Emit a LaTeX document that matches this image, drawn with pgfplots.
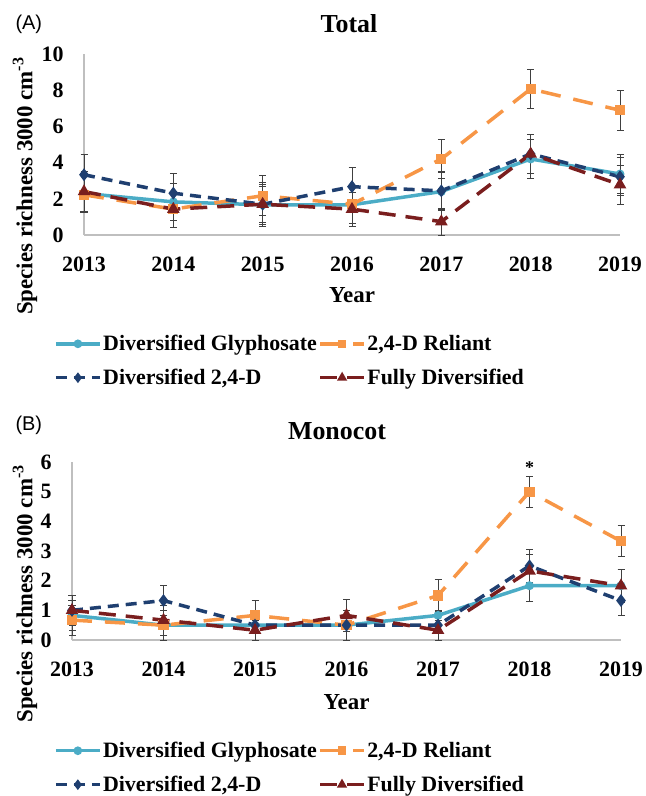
\documentclass[border=0pt]{standalone}
\usepackage{fontspec}
\setmainfont{Liberation Serif}
\setsansfont{Liberation Sans}
\usepackage{pgfplots}
\pgfplotsset{compat=1.18}
\definecolor{cDG}{HTML}{4BACC6}
\definecolor{cRE}{HTML}{F79646}
\definecolor{cDT}{HTML}{1F3F70}
\definecolor{cFD}{HTML}{7A1E1E}
\definecolor{cAx}{HTML}{BFBFBF}
\definecolor{cEr}{HTML}{404040}

\newcommand{\labfont}{\fontsize{23}{26}\selectfont\bfseries}
\pgfplotsset{
 common/.style={
  scale only axis,
  clip=false,
  axis x line*=bottom, axis y line*=left,
  axis line style={cAx, line width=1.2bp, -},
  xmin=2013, xmax=2019,
  xtick={2013,2014,2015,2016,2017,2018,2019},
  /pgf/number format/1000 sep={},
  /pgf/number format/assume math mode=true,
  major tick length=0pt,
  tick style={draw=none},
  ticklabel style={font=\fontsize{22}{24}\selectfont\bfseries},
  xticklabel style={yshift=-18bp},
  yticklabel style={xshift=-17bp},
  xlabel={Year},
  ylabel={Species richness 3000 cm\textsuperscript{-3}},
  legend columns=2,
  legend cell align=left,
  legend style={draw=none, fill=none, font=\fontsize{22}{24}\selectfont\bfseries,
    inner sep=0pt, nodes={inner sep=1.5bp}, row sep=14bp, anchor=north west},
  legend image code/.code={\draw[##1, mark repeat=2, mark phase=2, mark size=2.5bp] plot coordinates {(0bp,0bp) (22bp,0bp) (44bp,0bp)};},
 },
 eb/.style={error bars/.cd, y dir=both, y explicit,
   error bar style={color=cEr, line width=0.9bp, solid},
   error mark options={color=cEr, line width=0.9bp, mark size=3.5bp, solid, rotate=90}},
 sDG/.style={color=cDG, line width=3.5bp, solid, mark=*, mark size=2.6bp, mark options={solid, fill=cDG}},
 sRE/.style={color=cRE, line width=3.5bp, dash pattern=on 20bp off 13bp, mark=square*, mark size=3.3bp, mark options={solid, fill=cRE}},
 sDT/.style={color=cDT, line width=3.5bp, dash pattern=on 11bp off 7bp, mark=diamond*, mark size=3.6bp, mark options={solid, fill=cDT}},
 sFD/.style={color=cFD, line width=3.5bp, dash pattern=on 17bp off 10bp, mark=triangle*, mark size=3.8bp, mark options={solid, fill=cFD}},
}

\begin{document}
\begin{tikzpicture}
\useasboundingbox (0,0) rectangle (646bp,-796bp);

% ---------- Panel A ----------
\node[anchor=west, font=\sffamily\fontsize{20}{22}\selectfont] at (12bp,-24bp) {(A)};
\node[font=\fontsize{26}{28}\selectfont\bfseries] at (349bp,-24bp) {Total};
\begin{axis}[common,
  at={(84bp,-235bp)}, anchor=south west,
  width=536bp, height=181bp,
  ymin=0, ymax=10, ytick={0,2,4,6,8,10},
  every axis x label/.style={at={(axis description cs:0.5,-0.33)}, anchor=center, font=\labfont},
  every axis y label/.style={at={(axis description cs:-0.110,0.27)}, rotate=90, anchor=center, font=\labfont},
  legend style={at={(axis description cs:-0.056,-0.545)}},
]
\addplot[sDG, eb] table[x=x, y=y, y error=e] {
x y e
2013 2.30 1.00
2014 1.83 1.00
2015 1.67 1.00
2016 1.67 1.05
2017 2.40 1.05
2018 4.20 1.10
2019 3.37 1.07
};
\addlegendentry{Diversified Glyphosate}
\addplot[sRE, eb] table[x=x, y=y, y error=e] {
x y e
2013 2.22 1.00
2014 1.43 1.00
2015 2.17 1.10
2016 1.70 1.05
2017 4.20 1.06
2018 8.07 1.07
2019 6.89 1.10
};
\addlegendentry{2,4-D Reliant}
\addplot[sDT, eb] table[x=x, y=y, y error=e] {
x y e
2013 3.33 1.10
2014 2.31 1.10
2015 1.70 1.20
2016 2.67 1.07
2017 2.44 1.05
2018 4.48 1.10
2019 3.22 1.05
};
\addlegendentry{Diversified 2,4-D}
\addplot[sFD, eb] table[x=x, y=y, y error=e] {
x y e
2013 2.40 1.10
2014 1.43 1.00
2015 1.70 1.10
2016 1.43 0.93
2017 0.74 0.74
2018 4.48 1.10
2019 2.78 1.08
};
\addlegendentry{Fully Diversified}
\end{axis}

% ---------- Panel B ----------
\node[anchor=west, font=\sffamily\fontsize{20}{22}\selectfont] at (12bp,-425bp) {(B)};
\node[font=\fontsize{26}{28}\selectfont\bfseries] at (337bp,-431bp) {Monocot};
\begin{axis}[common,
  at={(72bp,-640bp)}, anchor=south west,
  width=549bp, height=178bp,
  ymin=0, ymax=6, ytick={0,1,2,3,4,5,6},
  every axis x label/.style={at={(axis description cs:0.5,-0.35)}, anchor=center, font=\labfont},
  every axis y label/.style={at={(axis description cs:-0.0856,0.26)}, rotate=90, anchor=center, font=\labfont},
  legend style={at={(axis description cs:-0.033,-0.565)}},
]
\addplot[sDG, eb] table[x=x, y=y, y error=e] {
x y e
2013 0.83 0.50
2014 0.50 0.50
2015 0.50 0.50
2016 0.50 0.50
2017 0.83 0.55
2018 1.83 0.52
2019 1.83 0.55
};
\addlegendentry{Diversified Glyphosate}
\addplot[sRE, eb] table[x=x, y=y, y error=e] {
x y e
2013 0.67 0.50
2014 0.50 0.50
2015 0.83 0.50
2016 0.50 0.50
2017 1.50 0.55
2018 5.00 0.53
2019 3.33 0.53
};
\addlegendentry{2,4-D Reliant}
\addplot[sDT, eb] table[x=x, y=y, y error=e] {
x y e
2013 1.00 0.50
2014 1.33 0.50
2015 0.50 0.50
2016 0.50 0.50
2017 0.50 0.50
2018 2.50 0.55
2019 1.33 0.50
};
\addlegendentry{Diversified 2,4-D}
\addplot[sFD, eb] table[x=x, y=y, y error=e] {
x y e
2013 1.00 0.50
2014 0.67 0.50
2015 0.33 0.33
2016 0.83 0.53
2017 0.33 0.33
2018 2.33 0.55
2019 1.83 0.55
};
\addlegendentry{Fully Diversified}
\node[font=\fontsize{18}{20}\selectfont\bfseries] at (axis cs:2018,5.82) {*};
\end{axis}
\end{tikzpicture}
\end{document}
